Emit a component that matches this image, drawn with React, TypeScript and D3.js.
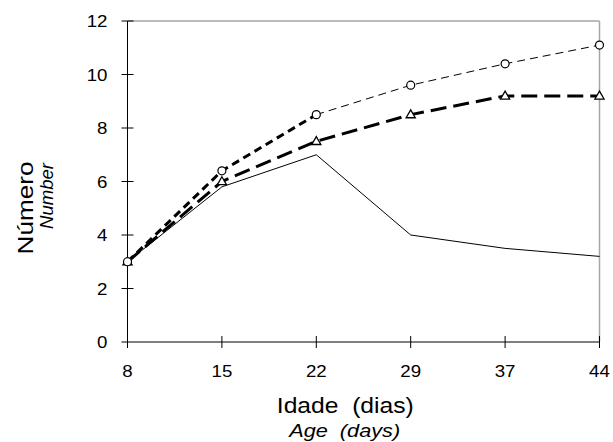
import React from "react";
import * as d3 from "d3";

const categories = ["8", "15", "22", "29", "37", "44"];
const yTicks = [0, 2, 4, 6, 8, 10, 12];
const solidSeries = [3, 5.8, 7.0, 4.0, 3.5, 3.2];
const circleSeries = [3, 6.4, 8.5, 9.6, 10.4, 11.1];
const triangleSeries = [3, 6.0, 7.5, 8.5, 9.2, 9.2];

const W = 613, H = 442;
const left = 127.5, right = 599.5, top = 21, bottom = 342;

export default function App() {
  const x = d3.scalePoint<string>().domain(categories).range([left, right]);
  const y = d3.scaleLinear().domain([0, 12]).range([bottom, top]);
  const line = d3.line<number>().x((_, i) => x(categories[i])!).y((d) => y(d));
  const pts = (vals: number[]) => vals.map((v, i) => [x(categories[i])!, y(v)] as [number, number]);
  const seg = (vals: number[], a: number, b: number) =>
    d3.line<number>().x((_, i) => x(categories[a + i])!).y((d) => y(d))(vals.slice(a, b + 1))!;
  const font = "'Liberation Sans', Arial, sans-serif";
  const tri = d3.symbol().type(d3.symbolTriangle).size(36)()!;
  const tickFs = 17;
  const digitW = (s: string) => s.length * 0.556 * tickFs * 1.1;
  return (
    <svg width={W} height={H} style={{ position: "absolute", left: 0, top: 0 }} fontFamily={font}>
      <rect width={W} height={H} fill="#fff" />
      {/* frame */}
      <line x1={left} x2={right} y1={top} y2={top} stroke="#a6a6a6" strokeWidth={1.5} />
      <line x1={right} x2={right} y1={top} y2={bottom} stroke="#a6a6a6" strokeWidth={1.5} />
      {/* axes */}
      <line x1={left} x2={left} y1={top} y2={bottom} stroke="#000" strokeWidth={1} />
      <line x1={left} x2={right} y1={bottom} y2={bottom} stroke="#000" strokeWidth={1} />
      {yTicks.map((t) => (
        <g key={"y" + t}>
          <line x1={left - 6} x2={t === 0 ? left : left + 6} y1={y(t)} y2={y(t)} stroke="#000" />
          <text x={left - 20} y={y(t)} dy="0.36em" textAnchor="end" fontSize={tickFs}
            textLength={digitW(String(t))} lengthAdjust="spacingAndGlyphs">{t}</text>
        </g>
      ))}
      {categories.map((c) => (
        <g key={"x" + c}>
          <line x1={x(c)} x2={x(c)} y1={bottom - 6} y2={bottom + 6} stroke="#000" />
          <text x={x(c)} y={377} textAnchor="middle" fontSize={tickFs}
            textLength={digitW(c)} lengthAdjust="spacingAndGlyphs">{c}</text>
        </g>
      ))}
      {/* solid series */}
      <path d={line(solidSeries)!} fill="none" stroke="#000" strokeWidth={1} />
      {/* triangle series long dash */}
      <path d={line(triangleSeries)!} fill="none" stroke="#000" strokeWidth={3} strokeDasharray="16,7" />
      {/* circle series: thick short dash then thin dash */}
      <path d={seg(circleSeries, 0, 2)} fill="none" stroke="#000" strokeWidth={3} strokeDasharray="8,5" />
      <path d={seg(circleSeries, 2, 5)} fill="none" stroke="#000" strokeWidth={1} strokeDasharray="8,5" />
      {pts(triangleSeries).map(([px, py], i) => (
        <path key={"t" + i} d={tri} transform={`translate(${px},${py + 0.5})`} fill="#fff" stroke="#000" strokeWidth={1.3} />
      ))}
      {pts(circleSeries).map(([px, py], i) => (
        <circle key={"c" + i} cx={px} cy={py} r={4} fill="#fff" stroke="#000" strokeWidth={1.2} />
      ))}
      {/* axis titles */}
      <text x={345.3} y={413} textAnchor="middle" fontSize={21.5} textLength={137} lengthAdjust="spacingAndGlyphs"
        style={{ whiteSpace: "pre" }}>Idade  (dias)</text>
      <text x={344.7} y={437} textAnchor="middle" fontSize={17.5} fontStyle="italic" textLength={111}
        lengthAdjust="spacingAndGlyphs" style={{ whiteSpace: "pre" }}>Age  (days)</text>
      <text transform="translate(33,208) rotate(-90)" textAnchor="middle" fontSize={22} textLength={93}
        lengthAdjust="spacingAndGlyphs">Número</text>
      <text transform="translate(52.5,196) rotate(-90)" textAnchor="middle" fontSize={17.5} fontStyle="italic"
        textLength={66} lengthAdjust="spacingAndGlyphs">Number</text>
    </svg>
  );
}
